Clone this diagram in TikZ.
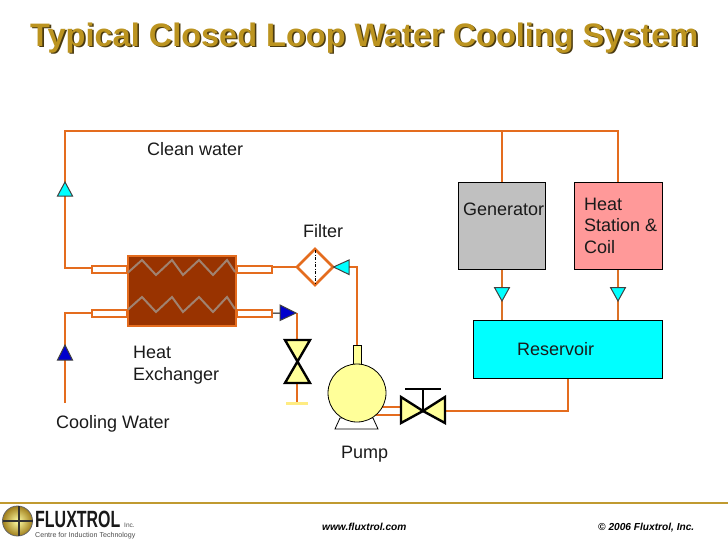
\documentclass[tikz,border=0pt]{standalone}
\usepackage{fontspec}
\setmainfont{Liberation Sans}
\definecolor{pipec}{HTML}{E46C1E}
\definecolor{gold}{HTML}{BC9420}
\definecolor{shadowc}{HTML}{4A3A10}
\definecolor{hxc}{HTML}{993300}
\definecolor{zigc}{HTML}{A08270}
\definecolor{paley}{HTML}{FFFF99}
\definecolor{cyanc}{HTML}{00FFFF}
\definecolor{bluec}{HTML}{0000CC}
\definecolor{pinkc}{HTML}{FF9999}
\definecolor{greyc}{HTML}{C0C0C0}
\definecolor{footline}{HTML}{C09A30}
\definecolor{txt}{HTML}{1A1A1A}
\tikzset{
  pipe/.style={draw=pipec,line width=2.5pt},
  stub/.style={draw=pipec,line width=2.2pt,fill=white,anchor=north west,inner sep=0pt,minimum width=35pt,minimum height=7pt},
  box/.style={draw=black,line width=1pt,inner sep=0pt,anchor=north west},
  lab/.style={anchor=base west,inner sep=0pt,text=txt,font=\fontsize{18}{21.5}\selectfont},
  cyantri/.style={draw=black!75,line width=1pt,fill=cyanc},
  bluetri/.style={draw=black!75,line width=1pt,fill=bluec},
  valve/.style={draw=black,line width=2.4pt,fill=paley,line join=miter},
  zig/.style={draw=zigc,line width=2pt},
  foot/.style={anchor=base west,inner sep=0pt,text=black,font=\fontsize{10.15}{13}\selectfont\bfseries\itshape},
  titletext/.style={anchor=base west,inner sep=0pt,font=\fontsize{32.5}{36}\selectfont\bfseries},
}
\begin{document}
\begin{tikzpicture}[x=1pt,y=-1pt]
\useasboundingbox (0,0) rectangle (728,546);
% title
\node[titletext,text=shadowc] (titleshadow) at (31.6,47.6) {Typical Closed Loop Water Cooling System};
\node[titletext,text=gold] (title) at (30,46) {Typical Closed Loop Water Cooling System};
% junction coordinates
\coordinate (c1) at (65,268);
\coordinate (c2) at (65,131);
\coordinate (c3) at (618,131);
\coordinate (c4) at (502,131);
\coordinate (c5) at (65,403);
\coordinate (c6) at (65,313);
\coordinate (c7) at (357,267);
\coordinate (c8) at (297,313);
\coordinate (c9) at (568,411);
% boxes
\node[box,fill=greyc,minimum width=87pt,minimum height=87pt] (gen) at (458,182) {};
\node[box,fill=pinkc,minimum width=88pt,minimum height=87pt] (heat) at (574,182) {};
\node[box,fill=cyanc,minimum width=189pt,minimum height=58pt] (res) at (472.5,320) {};
% heat exchanger
\node[stub] (s1) at (90.5,264.5) {};
\node[stub] (s2) at (236,264.5) {};
\node[stub] (s3) at (90.5,308.5) {};
\node[stub] (s4) at (236,308.5) {};
\node[draw=pipec,line width=2.5pt,fill=hxc,anchor=north west,inner sep=0pt,minimum width=108pt,minimum height=70pt] (hx) at (126.5,254.5) {};
\draw[zig] (128,272.5)--(142,260)--(156,275)--(172,260)--(183,275)--(199,260)--(213,275)--(227,260)--(235,272);
\draw[zig] (128,309.5)--(142,297)--(156,312)--(172,297)--(183,312)--(199,297)--(213,312)--(227,297)--(235,309);
% pipes
\draw[pipe] (c1 -| s1.west) -- (c1) -- (c2) -- (c3) -- (heat.north -| c3);
\draw[pipe] (c4) -- (c4 |- gen.north);
\draw[pipe] (c6 -| s3.west) -- (c6) -- (c5);
\draw[pipe,draw=pipec!75!brown] (gen.south -| c4) -- (c4 |- res.north);
\draw[pipe,draw=pipec!75!brown] (heat.south -| c3) -- (c3 |- res.north);
% filter
\coordinate (fc) at (315,267);
\draw[pipe] (fc -| s2.east) -- (fc);
\draw[pipe,fill=white,line join=miter] (297,267)--(315,249)--(333,267)--(315,285)--cycle;
\draw[black,line width=.8pt,dash pattern=on 3pt off 1.5pt on 1pt off 1.5pt] (315,250)--(315,284);
\coordinate (fr) at (333,267);
% pump
\coordinate (pt) at (357,345);
\draw[pipe] (fr) -- (c7) -- (pt);
\draw[black,line width=.8pt,fill=white] (340,418)--(373,418)--(378,429)--(335,429)--cycle;
\coordinate (vl) at (400,411);
\coordinate (pc) at (357,411);
\draw[pipe] ([yshift=-4pt]vl) -- ([yshift=-4pt]pc);
\draw[pipe] ([yshift=4pt]vl) -- ([yshift=4pt]pc);
\node[draw=black,line width=.8pt,fill=paley,inner sep=0pt,anchor=north,minimum width=8pt,minimum height=19pt] (pstub) at (357,345) {};
\node[draw=black,line width=.8pt,fill=paley,circle,inner sep=0pt,minimum size=58pt] (pump) at (357,393) {};
% main valve
\coordinate (vc) at (423,411);
\coordinate (vr) at (445,411);
\draw[pipe] (vr) -- (c9) -- (c9 |- res.south);
\draw[valve] (401,397)--(401,423)--(423,411)--(445,423)--(445,397)--(423,411)--cycle;
\draw[black,line width=2pt] (vc) -- (423,389);
\draw[black,line width=2pt] (405,389)--(441,389);
% blue outlet and drain valve
\draw[black,line width=1pt] (s4.east) -- (280,313);
\draw[pipe] (c8) -- (297,339);
\draw[pipe,line width=1.4pt] (297,384) -- (297,403);
\draw[draw=paley!85!orange,line width=2.4pt] (286,403.5)--(308,403.5);
\draw[valve] (285,340)--(310,340)--(297.5,361.5)--(310,383)--(285,383)--(297.5,361.5)--cycle;
% triangles
\draw[cyantri] (65,182)--(72.5,196)--(57.5,196)--cycle;
\draw[bluetri] (65,345)--(72.5,360)--(57.5,360)--cycle;
\draw[bluetri] (296,313)--(280,305)--(280,320.5)--cycle;
\draw[cyantri] (333.5,267)--(349,260)--(349,274.5)--cycle;
\draw[cyantri] (502,301)--(494.5,287.5)--(509.5,287.5)--cycle;
\draw[cyantri] (618,301)--(610.5,287.5)--(625.5,287.5)--cycle;
% labels
\node[lab] (tclean) at (147,155) {Clean water};
\node[lab] (tfilter) at (303,237) {Filter};
\node[lab] (thx1) at (133,358) {Heat};
\node[lab] (thx2) at (133,380) {Exchanger};
\node[lab] (tcool) at (56,428) {Cooling Water};
\node[lab] (tpump) at (341,458) {Pump};
\node[lab] (tgen) at (463,215) {Generator};
\node[lab] (th1) at (584,210) {Heat};
\node[lab] (th2) at (584,231) {Station \&};
\node[lab] (th3) at (584,253) {Coil};
\node[lab] (tres) at (517,355) {Reservoir};
% footer
\draw[footline,line width=2pt] (0,503)--(728,503);
\node[foot] (furl) at (322,530) {www.fluxtrol.com};
\node[foot] (fcopy) at (598,530) {© 2006 Fluxtrol, Inc.};
% logo
\shade[inner color=yellow!35!white,outer color=gold!85!black] (17.5,521) circle (15);
\draw[black!60,line width=.8pt] (17.5,521) circle (15);
\draw[black!80,line width=1.6pt] (2.5,521)--(32.5,521);
\draw[black!80,line width=1.6pt] (19,506)--(19,536);
\node[anchor=base west,inner sep=0pt,text=black!90,font=\fontsize{23.5}{24}\selectfont\bfseries] (lg1) at (35,527) {\addfontfeature{FakeStretch=0.68}FLUXTROL};
\node[anchor=base west,inner sep=0pt,text=black!70,font=\fontsize{6.5}{7}\selectfont] (lg2) at (124,527) {Inc.};
\node[anchor=base west,inner sep=0pt,text=black!70,font=\fontsize{7.1}{8}\selectfont] (lg3) at (35,537.5) {Centre for Induction Technology};
\end{tikzpicture}
\end{document}
